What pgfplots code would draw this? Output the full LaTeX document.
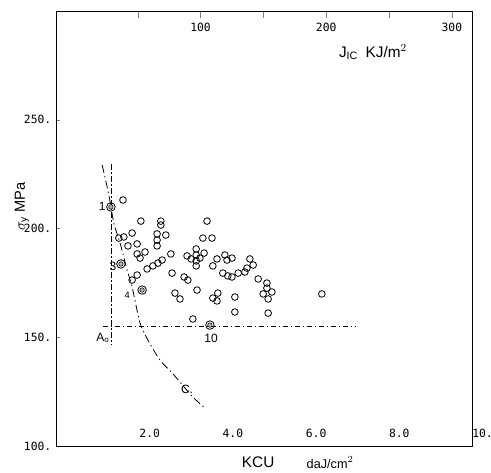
\documentclass[border=0pt]{standalone}
\usepackage{pgfplots}
\pgfplotsset{compat=1.18}
\usepackage{fontspec}
\setmainfont{Liberation Sans}
\newfontfamily\plotfont{DejaVu Sans Mono}

% KCU (daJ/cm2), sigma_y (MPa)
\pgfplotstableread{
kcu sy
1.61 213.1
2.04 203.4
2.52 203.4
2.52 201.6
1.83 197.9
1.51 195.6
1.63 196.1
2.43 197.5
2.43 194.7
2.43 192.0
2.64 197.0
1.73 192.0
1.95 192.9
1.95 188.3
2.14 189.2
2.02 186.4
2.76 188.3
2.19 181.4
2.33 182.8
2.45 184.1
2.55 185.5
2.79 179.5
1.95 178.6
1.83 176.3
3.63 203.4
3.53 195.6
3.75 195.6
3.15 187.4
3.25 186.0
3.37 190.6
3.37 187.8
3.37 185.1
3.37 182.8
3.46 186.4
3.56 188.7
3.08 177.7
3.17 176.3
3.39 171.7
2.86 170.3
2.98 167.6
3.29 158.4
3.77 182.8
3.87 186.0
4.06 187.8
4.11 185.5
4.23 186.4
4.01 179.5
4.13 178.2
4.23 177.7
4.38 179.5
4.54 180.0
4.59 181.8
4.66 186.0
4.74 183.2
4.86 176.8
3.89 170.3
3.77 168.0
3.87 166.7
4.30 168.5
4.30 161.6
5.07 174.9
5.07 172.6
4.98 169.9
5.19 170.8
5.10 167.6
5.10 161.1
6.39 169.9
}\opendata

\pgfplotstableread{
kcu sy
1.32 209.9
1.56 183.7
2.07 171.7
3.70 155.6
}\refdata

\pgfplotstableread{
kcu sy
1.11 229.2
1.27 215.4
1.39 202.5
1.54 193.3
1.71 180.9
1.83 173.1
2.02 156.6
2.21 148.7
2.50 139.5
2.79 133.6
2.98 129.4
3.29 122.5
3.58 117.5
}\curvec

\begin{document}
\begin{tikzpicture}
\begin{axis}[
    name=main,
    at={(0,0)}, anchor=south west,
    scale only axis,
    width=312pt, height=326.25pt,
    xmin=0, xmax=10,
    ymin=100, ymax=300,
    clip=false,
    xtick={2,4,6,8,10},
    xticklabels={2.0,4.0,6.0,8.0,10.},
    xtick pos=bottom,
    xtick style={draw=none},
    xticklabel style={anchor=south west, inner sep=0pt, xshift=0pt, yshift=6pt,
        font=\plotfont\fontsize{8.5}{10}\selectfont},
    ytick={100,150,200,250},
    yticklabels={100.,150.,200.,250.},
    ytick pos=left,
    yticklabel style={font=\plotfont\fontsize{8.5}{10}\selectfont},
    major tick length=3pt,
    axis line style={line width=0.65pt},
]
\addplot[only marks, mark=o, mark size=2.5pt, mark options={line width=0.6pt}]
    table[x=kcu, y=sy] {\opendata};
\addplot[only marks, mark=o, mark size=3.2pt, mark options={line width=0.6pt}]
    table[x=kcu, y=sy] {\refdata};
\addplot[only marks, mark=*, mark size=1.7pt, mark options={fill=gray!60, draw=black, line width=0.4pt}]
    table[x=kcu, y=sy] {\refdata};

% A0 lines
\addplot[line width=0.6pt, dash pattern=on 4pt off 2pt on 1pt off 2pt]
    coordinates {(1.33,229.5) (1.33,146.4)};
\addplot[line width=0.6pt, dash pattern=on 4pt off 2pt on 1pt off 2pt]
    coordinates {(1.13,155.2) (7.19,155.2)};
% curve C
\addplot[line width=0.6pt, smooth, dash pattern=on 6pt off 2.5pt on 1pt off 2.5pt]
    table[x=kcu, y=sy] {\curvec};

\node[font=\fontsize{9}{10}\selectfont] at (axis cs:1.11,210) {1};
\node[font=\fontsize{9}{10}\selectfont] at (axis cs:1.37,182.8) {3};
\node[font=\fontsize{7}{8}\selectfont] at (axis cs:1.71,169.4) {4};
\node[font=\fontsize{9}{10}\selectfont] at (axis cs:3.73,149.7) {10};
\node[font=\fontsize{9}{10}\selectfont] at (axis cs:1.13,149.7) {A$_\mathrm{o}$};
\node[font=\fontsize{9}{10}\selectfont] at (axis cs:3.15,126.2) {C.};

\node[rotate=90, font=\fontsize{11}{12}\selectfont] at (axis cs:-0.82,210) {$\sigma_\mathrm{y}$ MPa};
\node[font=\fontsize{11.5}{12}\selectfont] at (axis cs:4.86,92.6) {KCU};
\node[font=\fontsize{9.5}{10}\selectfont] at (axis cs:6.59,92.4) {daJ/cm$^2$};
\node[font=\fontsize{11.5}{12}\selectfont] at (axis cs:7.62,281) {J$_\mathrm{IC}$\enspace KJ/m$^2$};
\end{axis}

\begin{axis}[
    at={(0,0)}, anchor=south west,
    scale only axis,
    width=312pt, height=326.25pt,
    xmin=-15, xmax=316,
    ymin=100, ymax=300,
    axis x line*=top,
    axis y line=none,
    axis line style={line width=0.65pt},
    xtick={50,100,150,200,250,300},
    xticklabels={,100,,200,,300},
    xticklabel style={anchor=north, yshift=-5.5pt,
        font=\plotfont\fontsize{8.5}{10}\selectfont},
    major tick length=5pt,
]
\end{axis}

\pgfresetboundingbox
\path[use as bounding box] (main.south west) ++(-42pt,-20.25pt) rectangle ++(368.25pt,354.75pt);
\end{tikzpicture}
\end{document}
